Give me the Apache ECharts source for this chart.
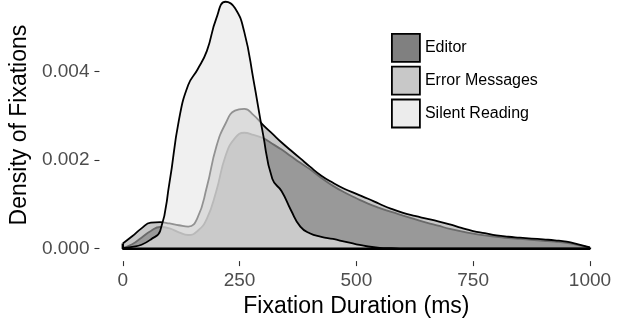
<!DOCTYPE html>
<html>
<head>
<meta charset="utf-8">
<script src="https://cdn.jsdelivr.net/npm/echarts@6/dist/echarts.min.js"></script>
<style>
  html, body { margin: 0; padding: 0; background: #fff; }
  #main { width: 626px; height: 324px; }
</style>
</head>
<body>
<div id="main"></div>
<script>
// fixation duration grid (ms)
let durations = [0, 20, 40, 60, 80, 100, 120, 140, 160, 180, 200, 220, 240, 260, 280, 300, 320, 340, 360, 380, 400,
  425, 450, 475, 500, 525, 550, 575, 600, 625, 650, 675, 700, 725, 750, 775, 800, 825, 850, 875, 900, 925, 950, 975, 1000];

let editor = [0.00002, 0.0001, 0.00025, 0.0004, 0.00049, 0.00046, 0.00037, 0.00031, 0.0004, 0.00068, 0.0013, 0.0021, 0.0025, 0.00262, 0.00257, 0.0025, 0.00237, 0.00224, 0.00209, 0.00194, 0.0018,
  0.0016, 0.00142, 0.00127, 0.00114, 0.00102, 0.00092, 0.00083, 0.00075, 0.00067, 0.00059, 0.00052, 0.00045, 0.00039, 0.00034, 0.0003, 0.00027, 0.00024, 0.00022, 0.0002, 0.00018, 0.00016, 0.00013, 0.00008, 0.00002];

let errorMessages = [0.00012, 0.00028, 0.00046, 0.00059, 0.0006, 0.00057, 0.00053, 0.0005, 0.0007, 0.0014, 0.0023, 0.00283, 0.00312, 0.00316, 0.00302, 0.0028, 0.0026, 0.0024, 0.00222, 0.00204, 0.00186,
  0.00165, 0.00149, 0.00135, 0.00124, 0.00113, 0.00101, 0.0009, 0.00081, 0.00074, 0.00068, 0.00062, 0.00055, 0.00047, 0.0004, 0.00035, 0.0003, 0.00027, 0.00025, 0.00023, 0.00021, 0.00019, 0.00016, 0.0001, 0.00003];

let silentReading = [0.00001, 0.00004, 0.00009, 0.00021, 0.0004, 0.0015, 0.0029, 0.0037, 0.00405, 0.00447, 0.0052, 0.00558, 0.00544, 0.0049, 0.0038, 0.0026, 0.00158, 0.0013, 0.00087, 0.0005, 0.00035,
  0.00027, 0.00022, 0.00016, 0.0001, 0.00005, 0.00002, 0.00001, 0, 0, 0, 0, 0, 0, 0, 0, 0, 0, 0, 0, 0, 0, 0, 0, 0];

let groups = ["Editor", "Error Messages", "Silent Reading"];
let xTicks = [0, 250, 500, 750, 1000];
let yTicks = [0, 0.002, 0.004];

const font = "'Liberation Sans', Arial, sans-serif";
const fills = ["rgb(53,53,53)", "rgb(168,168,168)", "rgb(231,231,231)"];
const keyColors = ["#808080", "#c8c8c8", "#ececec"];

function pairs(ys) {
  return durations.map((x, i) => [x, ys[i]]);
}

function densitySeries(name, ys, idx) {
  return {
    name: name,
    type: "line",
    data: pairs(ys),
    smooth: 0.5,
    showSymbol: false,
    z: 2 + idx,
    lineStyle: { color: "#000", width: 1.8 },
    itemStyle: { color: keyColors[idx] },
    areaStyle: { color: fills[idx], opacity: 0.63 },
    emphasis: { disabled: true },
  };
}

let last = durations.length - 1;

let options = {
  animation: false,
  textStyle: { fontFamily: font },
  grid: { left: 99, top: 0, width: 514.3, height: 261.1 },
  legend: {
    orient: "vertical",
    left: 391,
    top: 33,
    padding: 0,
    icon: "rect",
    itemWidth: 28,
    itemHeight: 28,
    itemGap: 3,
    selectedMode: false,
    textStyle: { fontSize: 16, color: "#000", fontFamily: font },
    data: groups.map((g, i) => ({
      name: g,
      itemStyle: { color: keyColors[i], borderColor: "#000", borderWidth: 1.8 },
    })),
  },
  xAxis: {
    type: "value",
    min: -50,
    max: 1050,
    name: "Fixation Duration (ms)",
    nameLocation: "middle",
    nameGap: 24,
    nameTextStyle: { fontSize: 23, color: "#000", fontFamily: font },
    axisLine: { show: false, onZero: false },
    splitLine: { show: false },
    axisTick: { show: true, customValues: xTicks, length: 5, lineStyle: { color: "#333", width: 1.1 } },
    axisLabel: {
      customValues: xTicks,
      margin: 10,
      fontSize: 19,
      color: "#4d4d4d",
      fontFamily: font,
      formatter: (v) => String(v),
    },
  },
  yAxis: {
    type: "value",
    min: -0.00028,
    max: 0.00562,
    name: "Density of Fixations",
    nameLocation: "middle",
    nameGap: 62,
    nameTextStyle: { fontSize: 23, color: "#000", fontFamily: font, padding: [0, 0, 0, 11] },
    axisLine: { show: false, onZero: false },
    splitLine: { show: false },
    axisTick: { show: true, customValues: yTicks, length: 5, lineStyle: { color: "#333", width: 1.1 } },
    axisLabel: {
      customValues: yTicks,
      margin: 10,
      fontSize: 19,
      color: "#4d4d4d",
      fontFamily: font,
      formatter: (v) => v.toFixed(3),
    },
  },
  series: [
    densitySeries(groups[0], editor, 0),
    densitySeries(groups[1], errorMessages, 1),
    densitySeries(groups[2], silentReading, 2),
    {
      // polygon bottoms and side edges
      name: "baseline",
      type: "line",
      data: [[0, errorMessages[0]], [0, 0], [1000, 0], [1000, errorMessages[last]]],
      showSymbol: false,
      z: 6,
      lineStyle: { color: "#000", width: 2.4 },
      emphasis: { disabled: true },
    },
  ],
};

let myChart = echarts.init(document.getElementById("main"));
myChart.setOption(options);
</script>
</body>
</html>
